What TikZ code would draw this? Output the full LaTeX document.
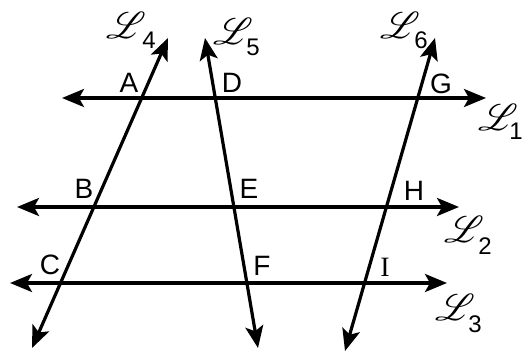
\documentclass[tikz,border=0pt]{standalone}
\usepackage{fontspec}
\setmainfont{Liberation Sans}
\newfontfamily\serifI{Liberation Serif}
\usepackage{mathrsfs}
\usetikzlibrary{arrows.meta}
\newcommand\scrL{\scalebox{1.5}{\fontsize{24.88}{30}\selectfont$\mathscr{L}$}}
\begin{document}
\begin{tikzpicture}[x=1pt,y=-1pt,
  ln/.style={line width=3.2pt, {Stealth[length=22pt,width=18pt,inset=5pt]}-{Stealth[length=22pt,width=18pt,inset=5pt]}},
  pt/.style={font=\fontsize{28}{28}\selectfont, inner sep=0pt},
  lab/.style={inner sep=0pt},
  sub/.style={inner sep=0pt, font=\fontsize{24}{24}\selectfont}]
\useasboundingbox (0,0) rectangle (524,355);
% end points
\coordinate (L1a) at (62,98);  \coordinate (L1b) at (486,98);
\coordinate (L2a) at (17,207); \coordinate (L2b) at (459,207);
\coordinate (L3a) at (10,283); \coordinate (L3b) at (447,283);
\coordinate (L4a) at (168,38); \coordinate (L4b) at (32,348);
\coordinate (L5a) at (205,38); \coordinate (L5b) at (258,348);
\coordinate (L6a) at (435,38); \coordinate (L6b) at (345,351);
% lines
\draw[ln] (L1a) -- (L1b);
\draw[ln] (L2a) -- (L2b);
\draw[ln] (L3a) -- (L3b);
\draw[ln] (L4a) -- (L4b);
\draw[ln] (L5a) -- (L5b);
\draw[ln] (L6a) -- (L6b);
% point labels
\node[pt] (A) at (129,83) {A};
\node[pt] (D) at (232,83) {D};
\node[pt] (G) at (441,84) {G};
\node[pt] (B) at (84,189) {B};
\node[pt] (E) at (249,189) {E};
\node[pt] (H) at (414,191) {H};
\node[pt] (C) at (50,265) {C};
\node[pt] (F) at (262,266) {F};
\node[pt,font=\fontsize{28}{28}\selectfont\serifI] (I) at (385,267) {I};
% line labels
\node[lab] (n4) at (126,25) {\scrL};  \node[sub] (s4) at (149,40) {4};
\node[lab] (n5) at (233,31) {\scrL};  \node[sub] (s5) at (253,47) {5};
\node[lab] (n6) at (400,25) {\scrL};  \node[sub] (s6) at (421,40) {6};
\node[lab] (n1) at (498,117) {\scrL}; \node[sub] (s1) at (516,131) {1};
\node[lab] (n2) at (464,229) {\scrL}; \node[sub] (s2) at (485,246) {2};
\node[lab] (n3) at (455,307) {\scrL}; \node[sub] (s3) at (475,324) {3};
\end{tikzpicture}
\end{document}
